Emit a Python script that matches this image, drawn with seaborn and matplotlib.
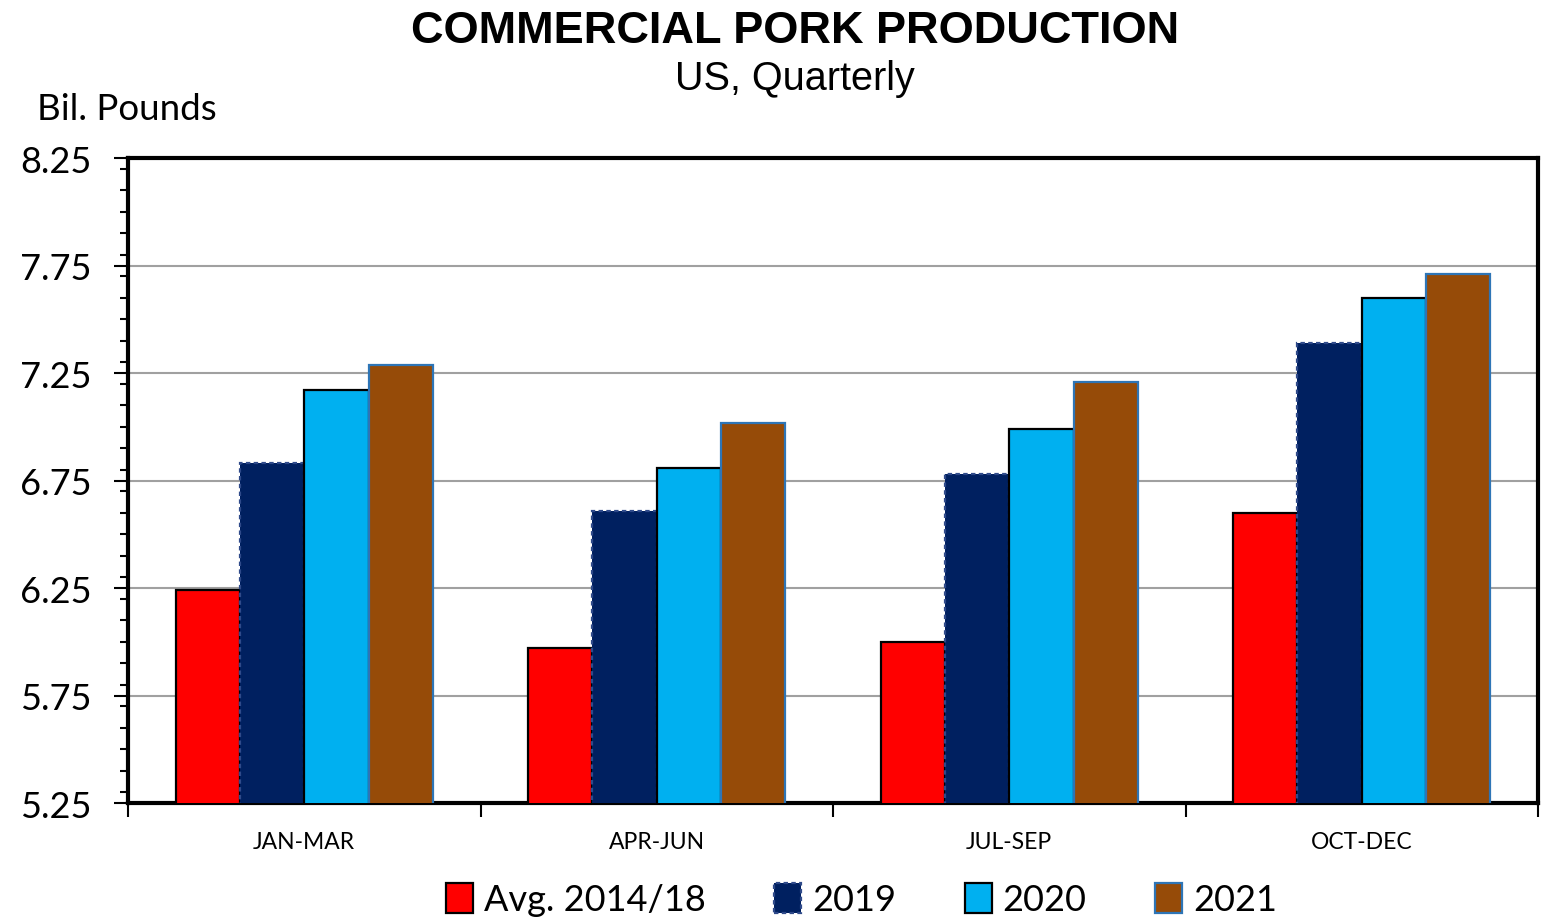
import pandas as pd
import matplotlib.pyplot as plt
import matplotlib.patches as mpatches
from matplotlib.ticker import MultipleLocator
import seaborn as sns

# Quarterly commercial pork production, billion pounds
quarters = ["JAN-MAR", "APR-JUN", "JUL-SEP", "OCT-DEC"]
series = ["Avg. 2014/18", "2019", "2020", "2021"]
avg_2014_18 = [6.24, 5.97, 6.00, 6.60]
y2019 = [6.83, 6.61, 6.78, 7.39]
y2020 = [7.17, 6.81, 6.99, 7.60]
y2021 = [7.29, 7.02, 7.21, 7.71]

colors = ["#FF0000", "#002060", "#00B0F0", "#964B08"]
edges = ["black", "#2F4A8A", "black", "#2E75B6"]
styles = ["solid", (0, (2, 1.5)), "solid", "solid"]

rows = []
for name, vals in zip(series, [avg_2014_18, y2019, y2020, y2021]):
    for q, v in zip(quarters, vals):
        rows.append({"Quarter": q, "Series": name, "Value": v})
data = pd.DataFrame(rows)

sns.set_style("white")
plt.rcParams["font.family"] = ["Lato", "DejaVu Sans"]
plt.rcParams["text.color"] = "black"
plt.rcParams["xtick.color"] = "black"
plt.rcParams["ytick.color"] = "black"

fig = plt.figure(figsize=(15.52, 9.2), dpi=100)
ax = fig.add_axes([0.0825, 0.126, 0.9085, 0.701])

sns.barplot(data=data, x="Quarter", y="Value", hue="Series", order=quarters,
            hue_order=series, palette=colors, width=0.73, gap=0,
            errorbar=None, saturation=1, legend=False, ax=ax, zorder=3)

for i, bar in enumerate(ax.patches[:16]):
    s = i // 4
    bar.set_edgecolor(edges[s])
    bar.set_linewidth(1.6)
    bar.set_linestyle(styles[s])

ax.set_ylim(5.25, 8.25)
ax.set_xlim(-0.5, 3.5)
ax.yaxis.set_minor_locator(MultipleLocator(0.1))
ax.set_yticks([5.25, 5.75, 6.25, 6.75, 7.25, 7.75, 8.25])
ax.yaxis.grid(True, color="#A0A0A0", linewidth=1.5, zorder=0)
ax.set_axisbelow(True)

ax.set_xticks([0, 1, 2, 3])
ax.set_xticklabels(quarters, fontsize=16.5)
ax.set_xticks([0.5, 1.5, 2.5, 3.5, -0.5], minor=True)
ax.tick_params(axis="x", which="major", length=0, pad=20)
ax.tick_params(axis="x", which="minor", length=10, width=1.5, color="black", direction="out", bottom=True)
ax.tick_params(axis="y", which="major", length=10, width=1.5, labelsize=26, direction="out", left=True, pad=16)
ax.tick_params(axis="y", which="minor", length=6, width=1.5, direction="out", left=True)

for sp in ax.spines.values():
    sp.set_visible(True)
    sp.set_color("black")
    sp.set_linewidth(3)

ax.set_xlabel("")
ax.set_ylabel("")

fig.text(0.512, 0.966, "COMMERCIAL PORK PRODUCTION", ha="center", va="center",
         fontsize=32.5, fontweight="bold", family=["Liberation Sans", "DejaVu Sans"])
fig.text(0.512, 0.914, "US, Quarterly", ha="center", va="center",
         fontsize=28.5, family=["Liberation Sans", "DejaVu Sans"])
fig.text(0.024, 0.881, "Bil. Pounds", ha="left", va="center", fontsize=26.5)

handles = [mpatches.Patch(facecolor=c, edgecolor=e, linewidth=1.6, linestyle=ls, label=s)
           for c, e, ls, s in zip(colors, edges, styles, series)]
fig.legend(handles=handles, loc="center", bbox_to_anchor=(0.555, 0.021), ncol=4,
           frameon=False, fontsize=26, handlelength=0.75, handleheight=0.9,
           handletextpad=0.3, columnspacing=1.9)

plt.savefig("out.png", dpi=100)
plt.close()
